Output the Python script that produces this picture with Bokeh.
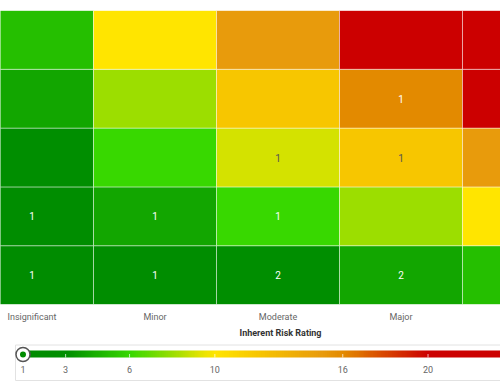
import numpy as np
from bokeh.plotting import figure
from bokeh.models import ColumnDataSource, Range1d, FixedTicker, LinearColorMapper, Title
from bokeh.layouts import column
from bokeh.core.properties import value
from bokeh.embed import file_html
from bokeh.resources import INLINE

# ---------------- data ----------------
impact_labels = ["Insignificant", "Minor", "Moderate", "Major", "Catastrophic"]
likelihood_levels = [1, 2, 3, 4, 5]
# counts[likelihood - 1][impact index]
counts = [
    [1, 1, 2, 2, None],
    [1, 1, 1, None, None],
    [None, None, 1, 1, None],
    [None, None, None, 1, None],
    [None, None, None, None, None],
]
scale_min, scale_max = 1, 25
legend_ticks = [1, 3, 6, 10, 16, 20]
stop_values = [1, 3, 4, 5, 6, 8, 9, 10, 12, 15, 16, 20, 25]
stop_colors = ["#008c00", "#008e00", "#12a600", "#25bf00", "#38d800", "#9cde00",
               "#d4e200", "#ffe500", "#f7c600", "#e89b0c", "#e38a00", "#cc0000", "#cc0000"]

FONT = value("Roboto")

# ---------------- palette from gradient stops ----------------
def hex2rgb(h):
    h = h.lstrip("#")
    return [int(h[i:i + 2], 16) for i in (0, 2, 4)]

rgb = np.array([hex2rgb(c) for c in stop_colors], dtype=float)
grid_vals = np.linspace(scale_min, scale_max, 241)
palette = []
for v in grid_vals:
    r = np.interp(v, stop_values, rgb[:, 0])
    g = np.interp(v, stop_values, rgb[:, 1])
    b = np.interp(v, stop_values, rgb[:, 2])
    palette.append("#%02x%02x%02x" % (int(round(r)), int(round(g)), int(round(b))))
mapper = LinearColorMapper(palette=palette, low=scale_min, high=scale_max)

# ---------------- heat map ----------------
xs, ys, scores, txt, txt_x, txt_y, txt_col = [], [], [], [], [], [], []
for li, L in enumerate(likelihood_levels):
    for ii, _ in enumerate(impact_labels):
        s = L * (ii + 1)
        xs.append(ii + 0.5)
        ys.append(L - 0.5)
        scores.append(s)
        c = counts[li][ii]
        if c is not None:
            txt.append(str(c))
            txt_x.append(ii + 0.5)
            txt_y.append(L - 0.5)
            txt_col.append("#555555" if 9 <= s <= 12 else "#ffffff")

cells = ColumnDataSource(dict(x=xs, y=ys, score=scores))
labels = ColumnDataSource(dict(x=txt_x, y=txt_y, t=txt, c=txt_col))

p = figure(width=500, height=340, output_backend="svg", toolbar_location=None,
           x_range=Range1d(0.244, 4.309), y_range=Range1d(0, 5),
           min_border_left=0, min_border_right=0, min_border_top=10, min_border_bottom=36)
p.rect(x="x", y="y", width=1, height=1, source=cells,
       fill_color={"field": "score", "transform": mapper},
       line_color="white", line_alpha=0.45, line_width=1)
p.text(x="x", y="y", text="t", source=labels, text_color="c",
       text_font=FONT, text_font_size="10px", text_align="center", text_baseline="middle")

p.yaxis.visible = False
p.xgrid.visible = False
p.ygrid.visible = False
p.outline_line_color = None
xa = p.xaxis[0]
xa.ticker = FixedTicker(ticks=[i + 0.5 for i in range(len(impact_labels))])
xa.major_label_overrides = {i + 0.5: lab for i, lab in enumerate(impact_labels)}
xa.axis_line_color = None
xa.major_tick_line_color = None
xa.minor_tick_line_color = None
xa.major_tick_out = 0
xa.major_tick_in = 0
xa.major_label_standoff = 7
xa.major_label_text_font = "Roboto"
xa.major_label_text_font_size = "9px"
xa.major_label_text_color = "#666666"

p.add_layout(Title(text="Inherent Risk Rating", align="left", offset=239,
                   vertical_align="middle", standoff=4,
                   text_font="Roboto", text_font_size="9px",
                   text_font_style="bold", text_color="#333333"), "below")

# ---------------- legend (colour scale) ----------------
q = figure(width=500, height=43, output_backend="svg", toolbar_location=None,
           x_range=Range1d(-0.055, 23.40), y_range=Range1d(0, 43),
           min_border_left=0, min_border_right=0, min_border_top=0, min_border_bottom=0)
q.axis.visible = False
q.xgrid.visible = False
q.ygrid.visible = False
q.outline_line_color = None

q.quad(left=[0.65], right=[30], bottom=[3], top=[38.5], fill_color=None,
       line_color="#e2e2e2", line_width=1)
q.image(image=[np.linspace(scale_min, scale_max, 480).reshape(1, -1)], x=scale_min, y=26,
        dw=scale_max - scale_min, dh=7, color_mapper=mapper)
q.segment(x0=legend_ticks, y0=[26] * len(legend_ticks), x1=legend_ticks,
          y1=[29.5] * len(legend_ticks), line_color="white", line_alpha=0.7, line_width=1)
q.text(x=legend_ticks, y=[14] * len(legend_ticks), text=[str(t) for t in legend_ticks],
       text_font=FONT, text_font_size="9px", text_color="#666666",
       text_align="center", text_baseline="middle")
q.scatter(x=[scale_min], y=[29], size=14, fill_color="white", line_color="#555555", line_width=1.5)
q.scatter(x=[scale_min], y=[29], size=6, fill_color=palette[0], line_color=None)

layout = column(p, q, spacing=0)
open("out.html", "w").write(file_html(layout, INLINE))
